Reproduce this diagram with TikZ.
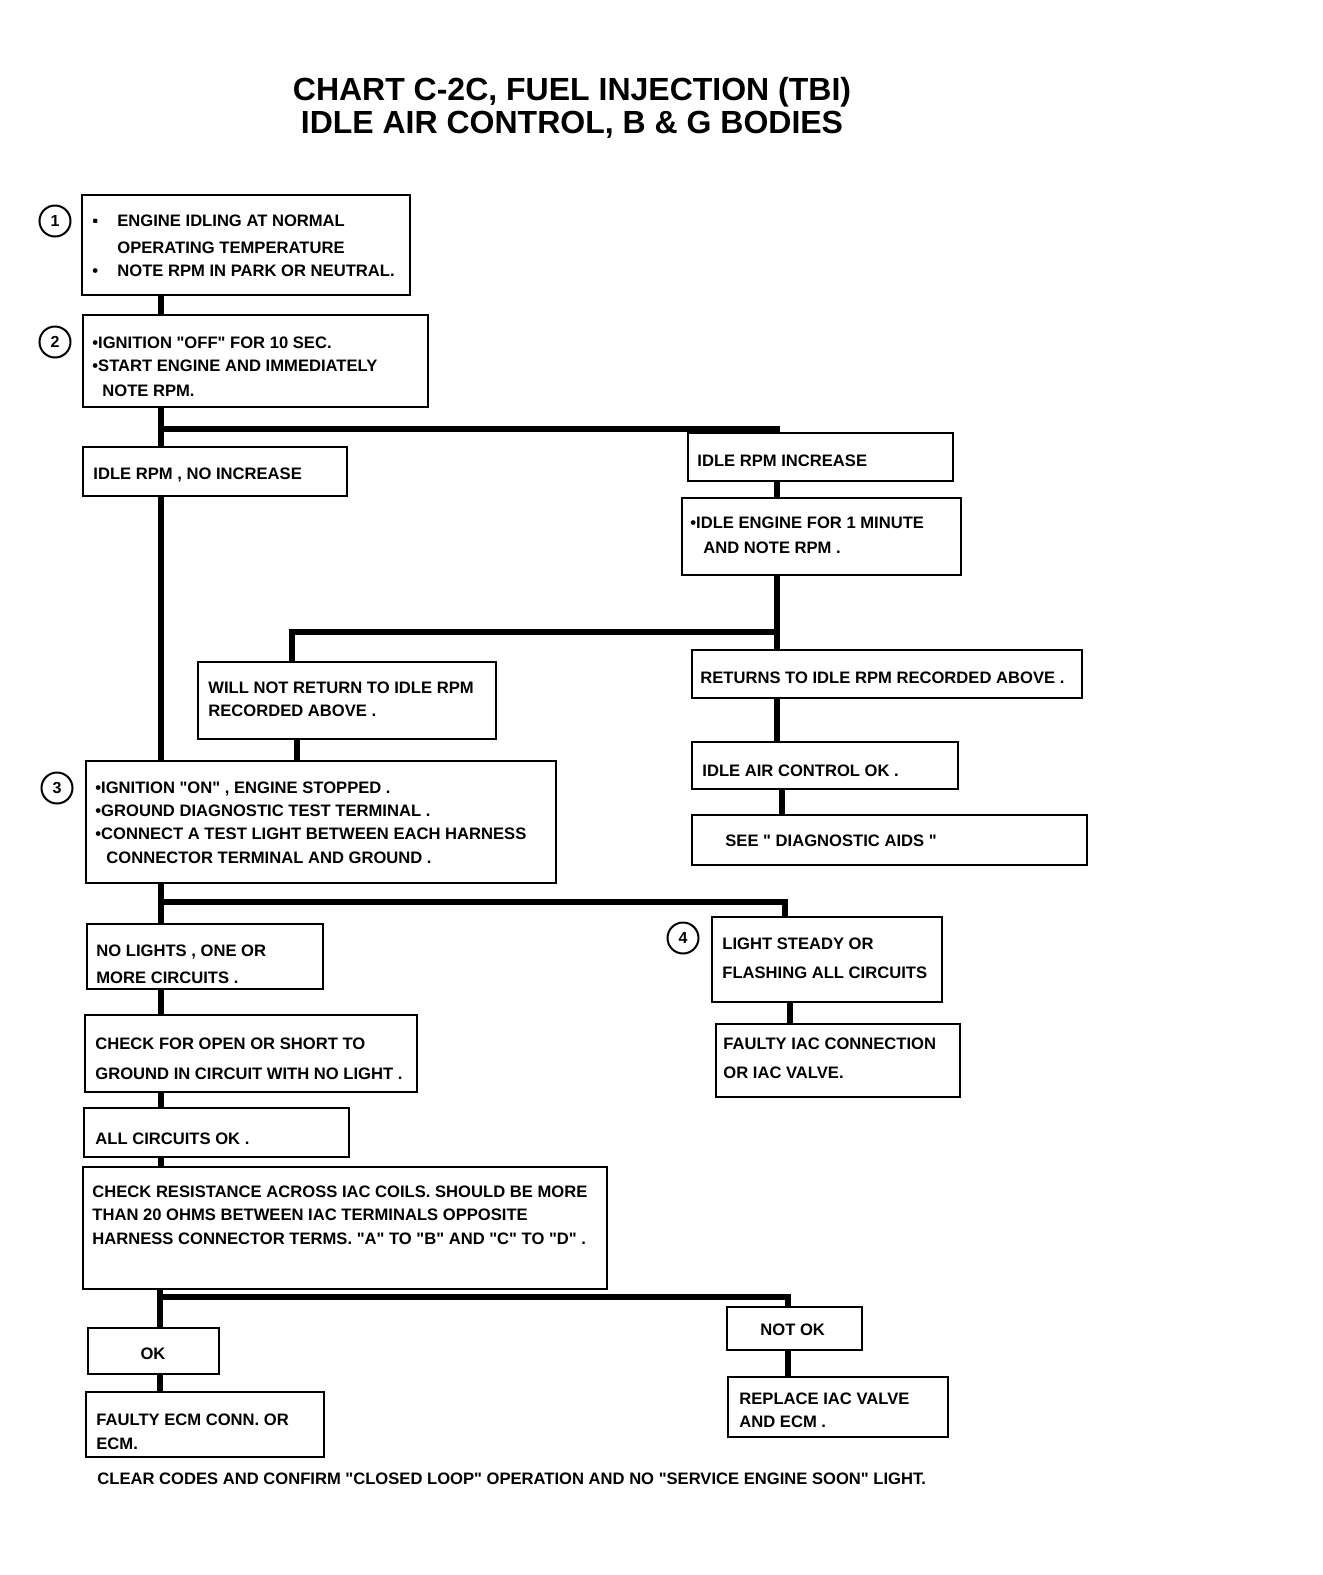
\documentclass[tikz,border=0pt]{standalone}
\usepackage{fontspec}
\setmainfont{Liberation Sans}[Ligatures=TeXOff]
\usetikzlibrary{fit}
\tikzset{
 box/.style={draw, line width=1.4pt, inner sep=0pt},
 txt/.style={anchor=base west, inner sep=0pt, font=\fontsize{8.3}{9}\selectfont\bfseries},
 ctxt/.style={txt, anchor=base},
 conn/.style={line width=3pt, line join=miter},
 num/.style={circle, draw, line width=1pt, minimum size=15.5pt, inner sep=0pt, font=\fontsize{8}{9}\selectfont\bfseries},
 ttl/.style={anchor=base, inner sep=0pt, font=\fontsize{16}{19}\selectfont\bfseries}
}
\begin{document}
\begin{tikzpicture}[x=0.5pt,y=-0.5pt]
\fill[white] (0,0) rectangle (1323,1575);
\useasboundingbox (0,0) rectangle (1323,1575);

\node[ttl] (title1) at (572,100) {CHART C-2C, FUEL INJECTION (TBI)};
\node[ttl] (title2) at (572,133) {IDLE AIR CONTROL, B \& G BODIES};

% boxes
\node[box, fit={(82,195) (410,295)}] (b1) {};
\node[box, fit={(83,315) (428,407)}] (b2) {};
\node[box, fit={(83,447) (347,496)}] (bnoinc) {};
\node[box, fit={(688,433) (953,481)}] (binc) {};
\node[box, fit={(682,498) (961,575)}] (bidle) {};
\node[box, fit={(198,662) (496,739)}] (bwill) {};
\node[box, fit={(692,650) (1082,698)}] (bret) {};
\node[box, fit={(692,742) (958,789)}] (biacok) {};
\node[box, fit={(692,815) (1087,865)}] (bsee) {};
\node[box, fit={(86,761) (556,883)}] (b3) {};
\node[box, fit={(87,924) (323,989)}] (bnolight) {};
\node[box, fit={(712,917) (942,1002)}] (blight) {};
\node[box, fit={(85,1015) (417,1092)}] (bopen) {};
\node[box, fit={(716,1024) (960,1097)}] (bfiac) {};
\node[box, fit={(84,1108) (349,1157)}] (ballok) {};
\node[box, fit={(83,1167) (607,1289)}] (bres) {};
\node[box, fit={(88,1328) (219,1374)}] (bok) {};
\node[box, fit={(727,1307) (862,1350)}] (bnotok) {};
\node[box, fit={(86,1392) (324,1457)}] (becm) {};
\node[box, fit={(728,1377) (948,1437)}] (brepl) {};

% step numbers
\node[num] (c1) at (55,221) {1};
\node[num] (c2) at (55,342) {2};
\node[num] (c3) at (57,788) {3};
\node[num] (c4) at (683,938) {4};

% texts
\node[txt] (t1a) at (92,226) {▪};
\node[txt] (t1b) at (117,226) {ENGINE IDLING AT NORMAL};
\node[txt] (t1c) at (117,253) {OPERATING TEMPERATURE};
\node[txt] (t1d) at (92,276) {•};
\node[txt] (t1e) at (117,276) {NOTE RPM IN PARK OR  NEUTRAL.};

\node[txt] (t2a) at (92,348) {•IGNITION "OFF"  FOR 10 SEC.};
\node[txt] (t2b) at (92,371) {•START ENGINE  AND IMMEDIATELY};
\node[txt] (t2c) at (102,396) {NOTE RPM.};

\node[txt] (tnoinc) at (93,479) {IDLE RPM , NO INCREASE};
\node[txt] (tinc) at (697,466) {IDLE RPM INCREASE};
\node[txt] (tidlea) at (690,528) {•IDLE ENGINE FOR 1 MINUTE};
\node[txt] (tidleb) at (703,553) {AND NOTE RPM .};
\node[txt] (twilla) at (208,693) {WILL NOT RETURN TO IDLE RPM};
\node[txt] (twillb) at (208,716) {RECORDED ABOVE .};
\node[txt] (tret) at (700,683) {RETURNS TO IDLE RPM RECORDED ABOVE .};
\node[txt] (tiacok) at (702,776) {IDLE AIR CONTROL OK .};
\node[txt] (tsee) at (725,846) {SEE " DIAGNOSTIC AIDS "};

\node[txt] (t3a) at (95,793) {•IGNITION "ON" , ENGINE STOPPED .};
\node[txt] (t3b) at (95,816) {•GROUND DIAGNOSTIC TEST TERMINAL .};
\node[txt] (t3c) at (95,839) {•CONNECT A TEST LIGHT BETWEEN EACH HARNESS};
\node[txt] (t3d) at (106,863) {CONNECTOR TERMINAL AND GROUND .};

\node[txt] (tnla) at (96,956) {NO LIGHTS , ONE OR};
\node[txt] (tnlb) at (96,983) {MORE CIRCUITS .};
\node[txt] (tlsa) at (722,949) {LIGHT STEADY OR};
\node[txt] (tlsb) at (722,978) {FLASHING  ALL CIRCUITS};
\node[txt] (topa) at (95,1049) {CHECK FOR OPEN OR SHORT TO};
\node[txt] (topb) at (95,1079) {GROUND IN CIRCUIT WITH NO LIGHT .};
\node[txt] (tfia) at (723,1049) {FAULTY  IAC  CONNECTION};
\node[txt] (tfib) at (723,1078) {OR  IAC  VALVE.};
\node[txt] (tall) at (95,1144) {ALL CIRCUITS OK .};
\node[txt] (tresa) at (92,1197) {CHECK RESISTANCE ACROSS IAC COILS. SHOULD BE MORE};
\node[txt] (tresb) at (92,1220) {THAN 20 OHMS BETWEEN IAC TERMINALS OPPOSITE};
\node[txt] (tresc) at (92,1244) {HARNESS CONNECTOR TERMS. "A" TO "B" AND "C" TO "D" .};
\node[ctxt] (tok) at (153,1359) {OK};
\node[txt] (tnotok) at (760,1335) {NOT OK};
\node[txt] (tecma) at (96,1425) {FAULTY ECM CONN. OR};
\node[txt] (tecmb) at (96,1449) {ECM.};
\node[txt] (trepa) at (739,1404) {REPLACE IAC VALVE};
\node[txt] (trepb) at (739,1427) {AND ECM .};
\node[txt] (tfoot) at (97,1484) {CLEAR CODES AND CONFIRM  "CLOSED LOOP" OPERATION AND NO "SERVICE ENGINE SOON" LIGHT.};

% junctions and columns
\coordinate (j1) at (161,429);
\coordinate (j1r) at (777,429);
\coordinate (j2) at (777,632);
\coordinate (j2l) at (292,632);
\coordinate (j3) at (161,902);
\coordinate (j3r) at (785,902);
\coordinate (j4) at (160,1297);
\coordinate (j4r) at (788,1297);
\coordinate (xw) at (297,0);
\coordinate (xn) at (161,0);
\coordinate (xe) at (782,0);
\coordinate (xg) at (790,0);

% connectors
\draw[conn] (j1 |- b1.south) -- (j1 |- b2.north);
\draw[conn] (j1 |- b2.south) -- (j1 |- bnoinc.north);
\draw[conn] (j1) -- (j1r) -- (j1r |- binc.north);
\draw[conn] (j1r |- binc.south) -- (j1r |- bidle.north);
\draw[conn] (j2 |- bidle.south) -- (j2 |- bret.north);
\draw[conn] (j2) -- (j2l) -- (j2l |- bwill.north);
\draw[conn] (xw |- bwill.south) -- (xw |- b3.north);
\draw[conn] (xn |- bnoinc.south) -- (xn |- b3.north);
\draw[conn] (j2 |- bret.south) -- (j2 |- biacok.north);
\draw[conn] (xe |- biacok.south) -- (xe |- bsee.north);
\draw[conn] (j3 |- b3.south) -- (j3 |- bnolight.north);
\draw[conn] (j3) -- (j3r) -- (j3r |- blight.north);
\draw[conn] (xg |- blight.south) -- (xg |- bfiac.north);
\draw[conn] (j3 |- bnolight.south) -- (j3 |- bopen.north);
\draw[conn] (j3 |- bopen.south) -- (j3 |- ballok.north);
\draw[conn] (xn |- ballok.south) -- (xn |- bres.north);
\draw[conn] (j4 |- bres.south) -- (j4 |- bok.north);
\draw[conn] (j4) -- (j4r) -- (j4r |- bnotok.north);
\draw[conn] (j4 |- bok.south) -- (j4 |- becm.north);
\draw[conn] (j4r |- bnotok.south) -- (j4r |- brepl.north);
\end{tikzpicture}
\end{document}
